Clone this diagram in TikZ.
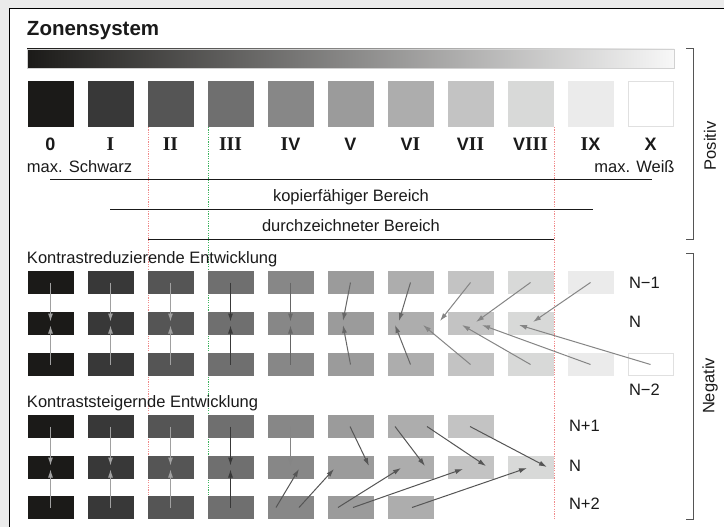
\documentclass[tikz,border=0pt]{standalone}
\usepackage{fontspec}
\setmainfont{Liberation Sans}
\newfontfamily\romIfont{Liberation Serif}
\usetikzlibrary{arrows.meta}
\definecolor{bgout}{HTML}{EBEBEB}
\definecolor{zA}{HTML}{1B1A18}
\definecolor{zB}{HTML}{383838}
\definecolor{zC}{HTML}{555555}
\definecolor{zD}{HTML}{6F6F6F}
\definecolor{zE}{HTML}{878787}
\definecolor{zF}{HTML}{9B9B9B}
\definecolor{zG}{HTML}{ADADAD}
\definecolor{zH}{HTML}{C3C3C3}
\definecolor{zI}{HTML}{D8D9D8}
\definecolor{zJ}{HTML}{EBEBEB}
\definecolor{zK}{HTML}{FFFFFF}
\definecolor{zedge}{HTML}{E0E0E0}
\definecolor{txt}{HTML}{1A1A1A}
\definecolor{dotred}{HTML}{F08A8A}
\definecolor{dotgreen}{HTML}{3DB35E}
\definecolor{arrLight}{HTML}{A0A0A0}
\definecolor{arrDark}{HTML}{383838}
\definecolor{arrMid}{HTML}{666666}
\definecolor{arrGray}{HTML}{858585}
\definecolor{arrSt}{HTML}{555555}
\definecolor{brk}{HTML}{555555}
\newcommand\RI{{\romIfont\fontsize{19.5}{20}\selectfont I}}
\newcommand\zarrow[4]{\coordinate (#1s) at (#2); \coordinate (#1t) at (#3); \draw[ar,#4] (#1s) -- (#1t);}
\begin{document}
\begin{tikzpicture}[x=1pt,y=-1pt,
  every node/.style={inner sep=0pt, outer sep=0pt, text=txt, font=\fontsize{16.5}{19}\selectfont},
  sq/.style={minimum width=46pt, minimum height=46pt},
  nrect/.style={minimum width=46pt, minimum height=23pt},
  num/.style={anchor=base, font=\fontsize{18}{20}\selectfont\bfseries},
  lbl/.style={anchor=base west},
  rulel/.style={draw=txt, line width=1pt},
  dotl/.style={line width=1pt, dash pattern=on 1.2pt off 1.2pt},
  ar/.style={line width=1pt, -{Latex[length=8pt,width=5pt]}},
  brack/.style={draw=brk, line width=1pt}
]
\useasboundingbox (0,0) rectangle (724,527);
\clip (0,0) rectangle (724,527);
\fill[bgout] (0,0) rectangle (724,527);
\fill[white] (9,8) rectangle (730,535);
\draw[black, line width=1.2pt] (9.5,535) -- (9.5,8.5) -- (730,8.5);

% title
\node[anchor=base west, font=\fontsize{20.5}{23}\selectfont\bfseries] (title) at (27,35.5) {Zonensystem};

% gradient bar
\shade[left color=zA, right color=white!97!black] (27,49) rectangle (674,68);
\draw[draw=black!18, line width=0.8pt] (27,49) rectangle (674,68);

% dotted guide lines
\draw[dotl, draw=dotred] (148,127) -- (148,520);
\draw[dotl, draw=dotgreen] (208,127) -- (208,520);
\draw[dotl, draw=dotred] (554,127) -- (554,520);

% positive squares
\foreach \i/\c in {0/zA,1/zB,2/zC,3/zD,4/zE,5/zF,6/zG,7/zH,8/zI,9/zJ}
  \node[sq, fill=\c] (p\i) at ({50.5+60*\i},104) {};
\node[sq, fill=zK, draw=zedge, line width=1pt, minimum width=45pt, minimum height=45pt] (p10) at (650.5,104) {};

% numerals
\node[num] (n0) at (50.5,150) {0};
\node[num] (n1) at (110.5,150) {\RI};
\node[num] (n2) at (170.5,150) {\RI\RI};
\node[num] (n3) at (230.5,150) {\RI\RI\RI};
\node[num] (n4) at (290.5,150) {\RI V};
\node[num] (n5) at (350.5,150) {V};
\node[num] (n6) at (410.5,150) {V\RI};
\node[num] (n7) at (470.5,150) {V\RI\RI};
\node[num] (n8) at (530.5,150) {V\RI\RI\RI};
\node[num] (n9) at (590.5,150) {\RI X};
\node[num] (n10) at (650.5,150) {X};

\node[anchor=base west] (mS) at (27,172.5) {max. Schwarz};
\node[anchor=base east] (mW) at (674.5,172.5) {max. Weiß};

% ranges
\coordinate (l1a) at (50,179); \coordinate (l1b) at (652,179);
\draw[rulel] (l1a) -- (l1b);
\node[anchor=base] (kop) at (351,201.5) {kopierfähiger Bereich};
\coordinate (l2a) at (110,209); \coordinate (l2b) at (593,209);
\draw[rulel] (l2a) -- (l2b);
\node[anchor=base] (dur) at (351,231) {durchzeichneter Bereich};
\coordinate (l3a) at (148,239); \coordinate (l3b) at (554,239);
\draw[rulel] (l3a) -- (l3b);

% brackets
\coordinate (b1a) at (686,49); \coordinate (b1b) at (693,49);
\coordinate (b1c) at (693,239); \coordinate (b1d) at (686,239);
\draw[brack] (b1a) -- (b1b) -- (b1c) -- (b1d);
\node[rotate=90] (pos) at (710,146) {Positiv};
\coordinate (b2a) at (686,253); \coordinate (b2b) at (693,253);
\coordinate (b2c) at (693,519); \coordinate (b2d) at (686,519);
\draw[brack] (b2a) -- (b2b) -- (b2c) -- (b2d);
\node[rotate=90] (neg) at (710,386) {Negativ};

% ---------- Kontrastreduzierende Entwicklung
\node[anchor=base west] (tred) at (27,263) {Kontrastreduzierende Entwicklung};
\foreach \i/\c in {0/zA,1/zB,2/zC,3/zD,4/zE,5/zF,6/zG,7/zH,8/zI,9/zJ}
  \node[nrect, fill=\c] (a\i) at ({50.5+60*\i},282.5) {};
\foreach \i/\c in {0/zA,1/zB,2/zC,3/zD,4/zE,5/zF,6/zG,7/zH,8/zI}
  \node[nrect, fill=\c] (b\i) at ({50.5+60*\i},323.5) {};
\foreach \i/\c in {0/zA,1/zB,2/zC,3/zD,4/zE,5/zF,6/zG,7/zH,8/zI,9/zJ}
  \node[nrect, fill=\c] (c\i) at ({50.5+60*\i},364.5) {};
\node[nrect, fill=zK, draw=zedge, line width=1pt, minimum width=45pt, minimum height=22pt] (c10) at (650.5,364.5) {};
\node[lbl] (lA) at (629,288.3) {N−1};
\node[lbl] (lB) at (629,327.7) {N};
\node[lbl] (lC) at (629,395) {N−2};

\foreach \i/\c in {0/arrLight,1/arrLight,2/arrLight,3/arrDark,4/arrMid}{
  \coordinate (rt\i) at ({50.5+60*\i},321.5);
  \coordinate (rb\i) at ({50.5+60*\i},325.5);
  \draw[ar, draw=\c] (a\i.center) -- (rt\i);
  \draw[ar, draw=\c] (c\i.center) -- (rb\i);
}
\zarrow{r5a}{350.5,282.5}{343,321}{draw=arrMid}
\zarrow{r5b}{350.5,364.5}{343,325}{draw=arrMid}
\zarrow{r6a}{410.5,282.5}{399,321}{draw=arrMid}
\zarrow{r6b}{410.5,364.5}{395,325}{draw=arrMid}
\zarrow{r7a}{470.5,282.5}{440,321}{draw=arrGray}
\zarrow{r7b}{470.5,364.5}{423,325}{draw=arrGray}
\zarrow{r8a}{530.5,282.5}{476,322}{draw=arrGray}
\zarrow{r8b}{530.5,364.5}{462,325}{draw=arrGray}
\zarrow{r9a}{590.5,282.5}{533,322}{draw=arrGray}
\zarrow{r9b}{590.5,364.5}{482,325}{draw=arrGray}
\zarrow{r10b}{650.5,364.5}{519,325}{draw=arrGray}

% ---------- Kontraststeigernde Entwicklung
\node[anchor=base west] (tst) at (27,407) {Kontraststeigernde Entwicklung};
\foreach \i/\c in {0/zA,1/zB,2/zC,3/zD,4/zE,5/zF,6/zG,7/zH}
  \node[nrect, fill=\c] (d\i) at ({50.5+60*\i},426.5) {};
\foreach \i/\c in {0/zA,1/zB,2/zC,3/zD,4/zE,5/zF,6/zG,7/zH,8/zI}
  \node[nrect, fill=\c] (e\i) at ({50.5+60*\i},467.5) {};
\foreach \i/\c in {0/zA,1/zB,2/zC,3/zD,4/zE,5/zF,6/zG}
  \node[nrect, fill=\c] (f\i) at ({50.5+60*\i},507.5) {};
\node[lbl] (lD) at (569,431) {N+1};
\node[lbl] (lE) at (569,471) {N};
\node[lbl] (lF) at (569,509) {N+2};

\foreach \i/\c in {0/arrLight,1/arrLight,2/arrLight,3/arrDark}{
  \coordinate (st\i) at ({50.5+60*\i},465.5);
  \coordinate (sb\i) at ({50.5+60*\i},469.5);
  \draw[ar, draw=\c] (d\i.center) -- (st\i);
  \draw[ar, draw=\c] (f\i.center) -- (sb\i);
}
\coordinate (st4) at (290.5,466);
\draw[ar, draw=arrGray] (d4.center) -- (st4);
\zarrow{s1}{350,426.5}{369,466}{draw=arrSt}
\zarrow{s2}{395,426.5}{425,466}{draw=arrSt}
\zarrow{s3}{427,426.5}{486,466}{draw=arrSt}
\zarrow{s4}{470,426.5}{547,467}{draw=arrSt}
\zarrow{s5}{276,507.5}{299,469}{draw=arrSt}
\zarrow{s6}{299,507.5}{334,469}{draw=arrSt}
\zarrow{s7}{338,507.5}{401,468}{draw=arrSt}
\zarrow{s8}{353,507.5}{463,469}{draw=arrSt}
\zarrow{s9}{412,507.5}{527,468}{draw=arrSt}
\end{tikzpicture}
\end{document}
